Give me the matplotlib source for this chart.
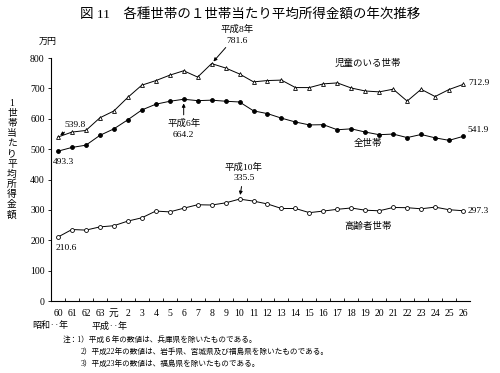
import matplotlib
matplotlib.use("Agg")
import matplotlib.pyplot as plt

plt.rcParams['font.family'] = ['Liberation Serif', 'Noto Sans CJK JP', 'DejaVu Sans']

years = ["60", "61", "62", "63", "元", "2", "3", "4", "5", "6", "7", "8", "9", "10",
         "11", "12", "13", "14", "15", "16", "17", "18", "19", "20", "21", "22",
         "23", "24", "25", "26"]
children = [539.8, 556.1, 561.5, 603.1, 625.6, 670.4, 710.5, 725.5, 743.4, 758.0,
            737.2, 781.6, 767.1, 747.4, 721.4, 725.8, 727.2, 702.7, 702.6, 714.9,
            718.0, 701.2, 691.4, 688.5, 697.3, 658.1, 697.0, 673.2, 696.3, 712.9]
allhh = [493.3, 505.6, 513.0, 545.3, 566.7, 596.6, 628.9, 647.8, 657.5, 664.2,
         659.6, 661.2, 657.7, 655.2, 626.0, 616.9, 602.0, 589.3, 579.7, 580.4,
         563.8, 566.8, 556.2, 547.5, 549.6, 538.0, 548.2, 537.2, 528.9, 541.9]
elderly = [210.6, 235.4, 233.4, 244.0, 247.9, 263.1, 273.9, 296.1, 293.4, 305.5,
           316.9, 316.0, 323.1, 335.5, 328.9, 319.5, 304.6, 304.6, 290.9, 296.1,
           301.9, 306.3, 298.9, 297.0, 307.9, 307.2, 303.6, 309.1, 300.5, 297.3]
yticks = [0, 100, 200, 300, 400, 500, 600, 700, 800]

fig = plt.figure(figsize=(5, 3.73), dpi=100)
ax = fig.add_axes([0.102, 0.193, 0.838, 0.6515])
x = list(range(len(years)))

lw = 0.7
ax.plot(x, children, color='black', lw=lw, marker='^', ms=2.8, mfc='white', mec='black', mew=0.6)
ax.plot(x, allhh, color='black', lw=lw, marker='o', ms=2.8, mfc='black', mec='black', mew=0.6)
ax.plot(x, elderly, color='black', lw=lw, marker='o', ms=2.8, mfc='white', mec='black', mew=0.6)

ax.set_xlim(-0.5, len(years) - 0.5)
ax.set_ylim(0, 800)
for s in ['top', 'right']:
    ax.spines[s].set_visible(False)
for s in ['left', 'bottom']:
    ax.spines[s].set_linewidth(0.8)

ax.set_yticks(yticks)
ax.set_yticklabels([str(v) for v in yticks], fontsize=7)
ax.tick_params(axis='y', direction='out', length=2.5, width=0.6, pad=2)
ax.set_xticks([i + 0.5 for i in range(len(years) - 1)])
ax.set_xticklabels([])
ax.tick_params(axis='x', direction='in', length=2.5, width=0.6)
ax.set_xticks(x, minor=True)
ax.set_xticklabels(years, minor=True, fontsize=7)
ax.tick_params(axis='x', which='minor', length=0, pad=6)

fs = 6.8
# annotations
ax.annotate("平成8年\n781.6", xy=(11, children[11]), xytext=(12.8, children[11] + 62),
            ha='center', va='bottom', fontsize=fs, linespacing=1.4,
            arrowprops=dict(arrowstyle='-|>', color='black', lw=0.7, mutation_scale=5,
                            shrinkA=0, shrinkB=2))
ax.annotate("539.8", xy=(0, children[0]), xytext=(1.2, children[0] + 28),
            ha='center', va='bottom', fontsize=fs,
            arrowprops=dict(arrowstyle='-|>', color='black', lw=0.7, mutation_scale=5,
                            shrinkA=1, shrinkB=2))
ax.text(0.4, allhh[0] - 22, "493.3", ha='center', va='top', fontsize=fs)
ax.annotate("平成6年\n664.2", xy=(9, allhh[9]), xytext=(9, allhh[9] - 65),
            ha='center', va='top', fontsize=fs, linespacing=1.4,
            arrowprops=dict(arrowstyle='-|>', color='black', lw=0.7, mutation_scale=5,
                            shrinkA=1, shrinkB=3))
ax.annotate("平成10年\n335.5", xy=(13, elderly[13]), xytext=(13.3, elderly[13] + 55),
            ha='center', va='bottom', fontsize=fs, linespacing=1.4,
            arrowprops=dict(arrowstyle='-|>', color='black', lw=0.7, mutation_scale=5,
                            shrinkA=1, shrinkB=3))
ax.text(0.6, elderly[0] - 22, "210.6", ha='center', va='top', fontsize=fs)
ax.text(29.35, children[-1] + 4, "712.9", ha='left', va='center', fontsize=fs)
ax.text(29.35, allhh[-1] + 22, "541.9", ha='left', va='center', fontsize=fs)
ax.text(29.35, elderly[-1] - 2, "297.3", ha='left', va='center', fontsize=fs)

ax.text(22.2, 783, "児童のいる世帯", ha='center', va='center', fontsize=fs)
ax.text(22.2, 519, "全世帯", ha='center', va='center', fontsize=fs)
ax.text(22.2, 247, "高齢者世帯", ha='center', va='center', fontsize=fs)

# figure texts
fig.text(0.5, 1 - 14 / 373, "図 11　各種世帯の１世帯当たり平均所得金額の年次推移",
         ha='center', va='center', fontsize=9.7)
fig.text(48 / 500, 1 - 42 / 373, "万円", ha='center', va='center', fontsize=6.5)
ylabel_chars = ["1", "世", "帯", "当", "た", "り", "平", "均", "所", "得", "金", "額"]
for k, ch in enumerate(ylabel_chars):
    fig.text(12 / 500, 1 - (103 + k * 10.2) / 373, ch, ha='center', va='center',
             fontsize=7)
fig.text(50 / 500, 1 - 326 / 373, "昭和‥年", ha='center', va='center', fontsize=6.5)
fig.text(110 / 500, 1 - 326 / 373, "平成‥年", ha='center', va='center', fontsize=6.5)

notes = [
    (63, 340, "注：1）平成６年の数値は、兵庫県を除いたものである。"),
    (81, 352, "2）平成22年の数値は、岩手県、宮城県及び福島県を除いたものである。"),
    (81, 364, "3）平成23年の数値は、福島県を除いたものである。"),
]
for nx, ny, t in notes:
    fig.text(nx / 500, 1 - ny / 373, t, ha='left', va='center', fontsize=5.5)

fig.savefig("out.png", dpi=100)
